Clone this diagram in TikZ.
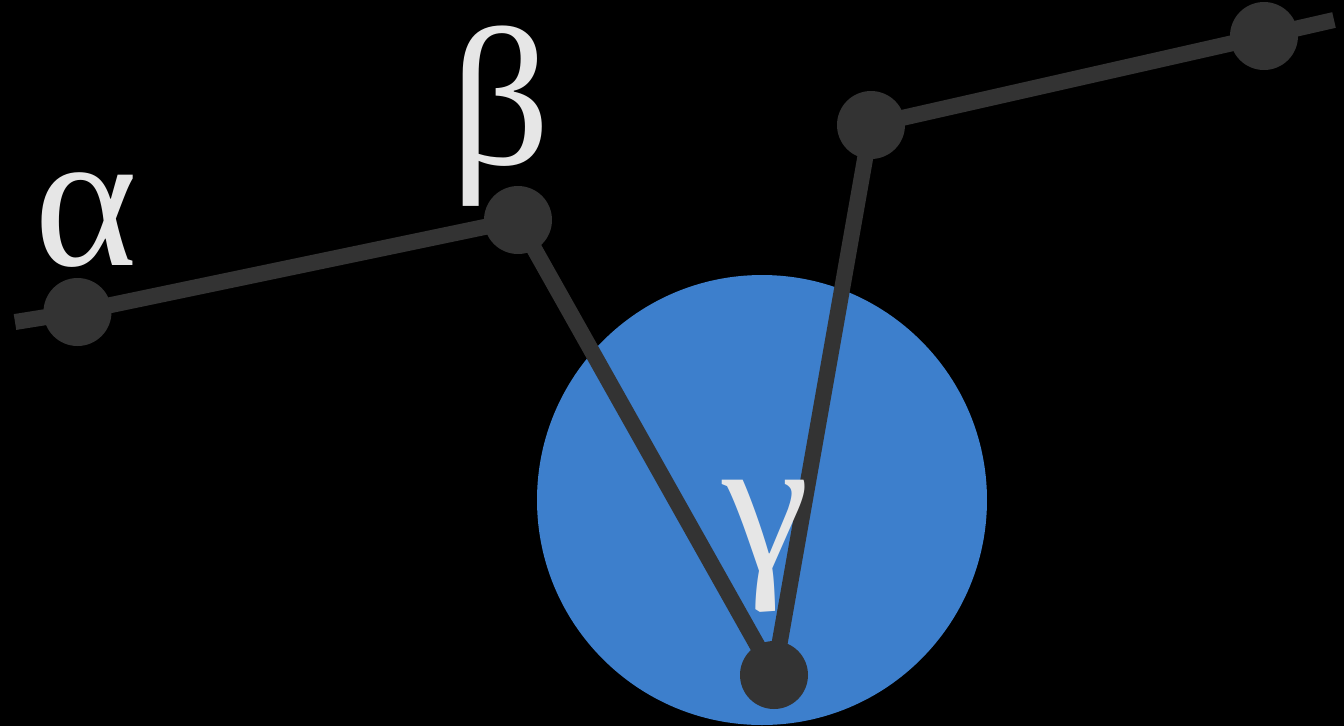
\documentclass[tikz,border=0pt]{standalone}
\usepackage{fontspec}
\setmainfont{Liberation Serif}
\usetikzlibrary{positioning}
\definecolor{fond}{HTML}{000000}
\definecolor{trait}{HTML}{333333}
\definecolor{disque}{HTML}{3D7FCC}
\definecolor{lettre}{HTML}{E6E6E6}
\tikzset{
  joint/.style={circle, fill=trait, draw=none, inner sep=0pt, minimum size=0.68cm},
  tige/.style={draw=trait, line width=0.16cm, line join=round},
  grec/.style={text=lettre, font=\fontsize{56}{60}\selectfont, anchor=base, inner sep=0pt},
}
\begin{document}
\begin{tikzpicture}
  \fill[fond] (0,0) rectangle (13.44,7.26);
  \useasboundingbox (0,0) rectangle (13.44,7.26);
  % disque bleu
  \fill[disque] (7.62,2.26) circle (2.25);
  % points de la chaine
  \coordinate (debut) at (0.15,4.04);
  \coordinate (pa) at (0.775,4.14);
  \coordinate (pb) at (5.18,5.06);
  \coordinate (pg) at (7.74,0.51);
  \coordinate (ph) at (8.71,6.01);
  \coordinate (pd) at (12.64,6.90);
  \coordinate (fin) at (13.34,7.06);
  \draw[tige] (debut) -- (pa) -- (pb) -- (pg) -- (ph) -- (pd) -- (fin);
  \node[joint] (ja) at (pa) {};
  \node[joint] (jb) at (pb) {};
  \node[joint] (jg) at (pg) {};
  \node[joint] (jh) at (ph) {};
  \node[joint] (jd) at (pd) {};
  % lettres
  \node[grec] (alpha) at (0.86,4.61) {α};
  \node[grec] (beta) at (5.01,5.62) {β};
  \node[grec] (gamma) at (7.66,1.56) {γ};
\end{tikzpicture}
\end{document}
